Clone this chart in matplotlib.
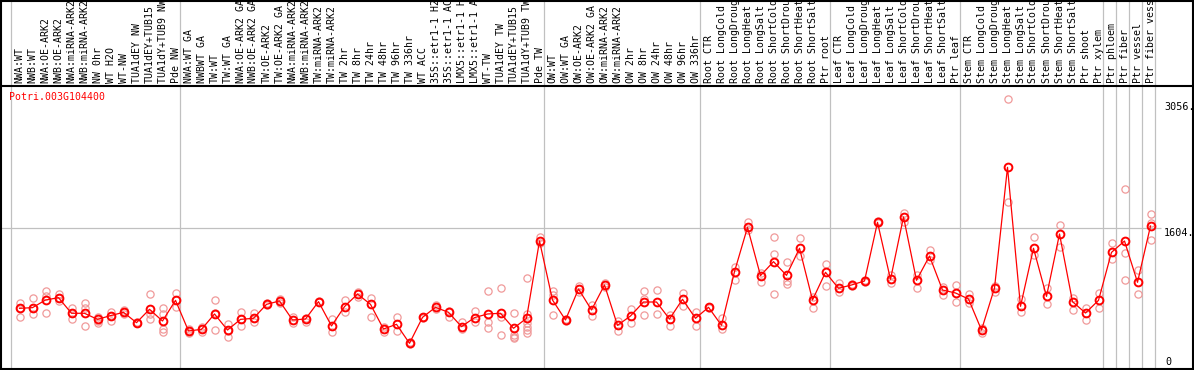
import matplotlib
matplotlib.use("Agg")
import matplotlib.pyplot as plt
from matplotlib.lines import Line2D

gene = "Potri.003G104400"

labels = [
    "NWA:WT", "NWB:WT", "NWA:OE-ARK2", "NWB:OE-ARK2", "NWA:miRNA-ARK2", "NWB:miRNA-ARK2",
    "NW 0hr", "WT H2O", "WT-NW", "TUA1dEY NW", "TUA1dEY+TUB15", "TUA1dY+TUB9 NW", "Pde NW",
    "NWA:WT GA", "NWBWT GA", "TW:WT", "TW:WT GA", "NWA:OE-ARK2 GA", "NWB:OE-ARK2 GA",
    "TW:OE-ARK2", "TW:OE-ARK2 GA", "NWA:miRNA-ARK2", "NWB:miRNA-ARK2", "TW:miRNA-ARK2",
    "TW:miRNA-ARK2", "TW 2hr", "TW 8hr", "TW 24hr", "TW 48hr", "TW 96hr", "TW 336hr",
    "WT ACC", "35S::etr1-1 H2", "35S::etr1-1 AC", "LMX5::etr1-1 H", "LMX5::etr1-1 A",
    "WT-TW", "TUA1dEY TW", "TUA1dEY+TUB15", "TUA1dY+TUB9 TW", "Pde TW",
    "OW:WT", "OW:WT GA", "OW:OE-ARK2", "OW:OE-ARK2 GA", "OW:miRNA-ARK2", "OW:miRNA-ARK2",
    "OW 2hr", "OW 8hr", "OW 24hr", "OW 48hr", "OW 96hr", "OW 336hr",
    "Root CTR", "Root LongCold", "Root LongDroug", "Root LongHeat", "Root LongSalt",
    "Root ShortCold", "Root ShortDrou", "Root ShortHeat", "Root ShortSalt", "Ptr root",
    "Leaf CTR", "Leaf LongCold", "Leaf LongDroug", "Leaf LongHeat", "Leaf LongSalt",
    "Leaf ShortCold", "Leaf ShortDrou", "Leaf ShortHeat", "Leaf ShortSalt", "Ptr leaf",
    "Stem CTR", "Stem LongCold", "Stem LongDroug", "Stem LongHeat", "Stem LongSalt",
    "Stem ShortCold", "Stem ShortDrou", "Stem ShortHeat", "Stem ShortSalt", "Ptr shoot",
    "Ptr xylem", "Ptr phloem", "Ptr fiber", "Ptr vessel", "Ptr fiber vess",
]

means = [
    676, 684, 772, 799, 619, 619, 549, 592, 630, 511, 665, 530, 768,
    415, 434, 611, 426, 549, 561, 722, 761, 542, 553, 753, 473, 696, 841, 722, 438,
    492, 273, 572, 688, 630, 465, 569, 611, 619, 446, 561, 1452,
    772, 542, 899, 657, 945, 480, 588, 749, 749, 553, 780, 561,
    688, 480, 1099, 1609, 1053, 1214, 1056, 1368, 772, 1091,
    907, 945, 991, 1667, 1010, 1729, 999, 1279, 887, 853,
    784, 426, 910, 2301, 699, 1368, 814, 1533, 753, 622, 768,
    1321, 1452, 976, 1625,
]

replicates = [
    [741, 676, 580], [791, 684, 615], [872, 818, 619], [841, 799, 765], [676, 619, 549],
    [734, 676, 476], [580, 530, 511], [638, 592, 534], [657, 630, 611], [523, 511, 503],
    [841, 611, 549], [676, 611, 434, 403], [849, 768, 688],
    [434, 388, 419], [465, 403, 442], [768, 626, 426], [492, 419, 350], [630, 549, 476],
    [626, 561, 515], [734, 715], [780, 734], [580, 503], [569, 523], [761, 745],
    [549, 399], [772, 638], [861, 811], [799, 572], [465, 399], [572, 419], [284, 261],
    [580, 561], [715, 665], [649, 572], [523, 434], [645, 523], [876, 515, 453],
    [907, 580, 365], [619, 369, 350, 330], [1022, 611, 503, 465, 426, 396], [1494, 1425],
    [876, 830, 595], [549, 534], [937, 868], [715, 592], [964, 926], [530, 419],
    [668, 503], [876, 780, 595], [887, 611], [599, 476], [857, 707], [638, 476],
    [696, 676], [561, 434], [1156, 1003], [1671, 1579], [1079, 983], [1498, 1298, 837],
    [1206, 991, 953], [1483, 1279], [811, 676], [1183, 934],
    [964, 868], [953, 934], [1003, 980], [1683, 1656], [1060, 964], [1779, 1667],
    [1060, 907], [1348, 1233], [926, 830], [945, 745],
    [841, 734], [446, 388], [937, 861], [3090, 1905], [780, 638], [1502, 1291],
    [907, 722], [1636, 1387], [791, 657], [676, 542], [857, 684],
    [1425, 1241], [2047, 1310, 999], [1118, 837], [1763, 1656, 1464],
]

group_starts = [0, 13, 41, 53, 63, 73, 84, 85, 86, 87, 88]
ytick_vals = [3056, 1604, 0]
ytick_labels = ["3056.", "1604.", "0"]

# ---- layout (pixel geometry) ----
W, H = 1194, 370
X0, DX = 19.5, 13.0        # pixel x of first column, column spacing
Y0, SY = 367.0, 0.08678    # pixel y of value 0, pixels per unit

def px2x(p):
    return (p - X0) / DX

def py2y(p):
    return (Y0 - p) / SY

MONO = "DejaVu Sans Mono"
fig = plt.figure(figsize=(W / 100, H / 100), dpi=100)
fig.patch.set_facecolor("white")
ax = fig.add_axes([0, 0, 1, 1])
ax.set_axis_off()
ax.set_xlim(px2x(0), px2x(W))
ax.set_ylim(py2y(H), py2y(0))

grid_c = "#c0c0c0"
# vertical group separators
for g in group_starts:
    ax.axvline(g - 8.5 / DX, color=grid_c, lw=0.9, zorder=1)
# mid horizontal line
ax.hlines(ytick_vals[1], px2x(1), px2x(1161), color=grid_c, lw=0.9, zorder=1)

# replicates
for i, rs in enumerate(replicates):
    ax.plot([i] * len(rs), rs, linestyle="none", marker="o", mfc="none",
            mec="#f09a9a", ms=5.2, mew=0.9, zorder=2)
# means
ax.plot(range(len(means)), means, color="red", lw=0.9, marker="o", mfc="none",
        mec="red", ms=5.6, mew=1.4, zorder=3)

# header labels
for i, lab in enumerate(labels):
    ax.text(i, py2y(83.5), lab, rotation=90, ha="center", va="bottom",
            family=MONO, fontsize=7.1, color="black", clip_on=False)

# gene name
ax.text(px2x(9), py2y(97.5), gene, color="red", ha="left", va="center",
        family=MONO, fontsize=7.1)

# right-hand value labels
for v, t in zip(ytick_vals, ytick_labels):
    if v == 0:
        ax.text(px2x(1165), py2y(367), t, ha="left", va="bottom",
                family=MONO, fontsize=7.3)
    else:
        ax.text(px2x(1164), v, t, ha="left", va="top",
                family=MONO, fontsize=7.3)

# black frame and header separator
def fline(x0, y0, x1, y1):
    fig.add_artist(Line2D([x0 / W, x1 / W], [1 - y0 / H, 1 - y1 / H],
                          transform=fig.transFigure, color="black", lw=1.5))

fline(1, 0.5, 1193, 0.5)
fline(1, 85.5, 1193, 85.5)
fline(1, 368.5, 1193, 368.5)
fline(1, 0, 1, 370)
fline(1193, 0, 1193, 370)

fig.savefig("out.png", dpi=100, facecolor="white")
